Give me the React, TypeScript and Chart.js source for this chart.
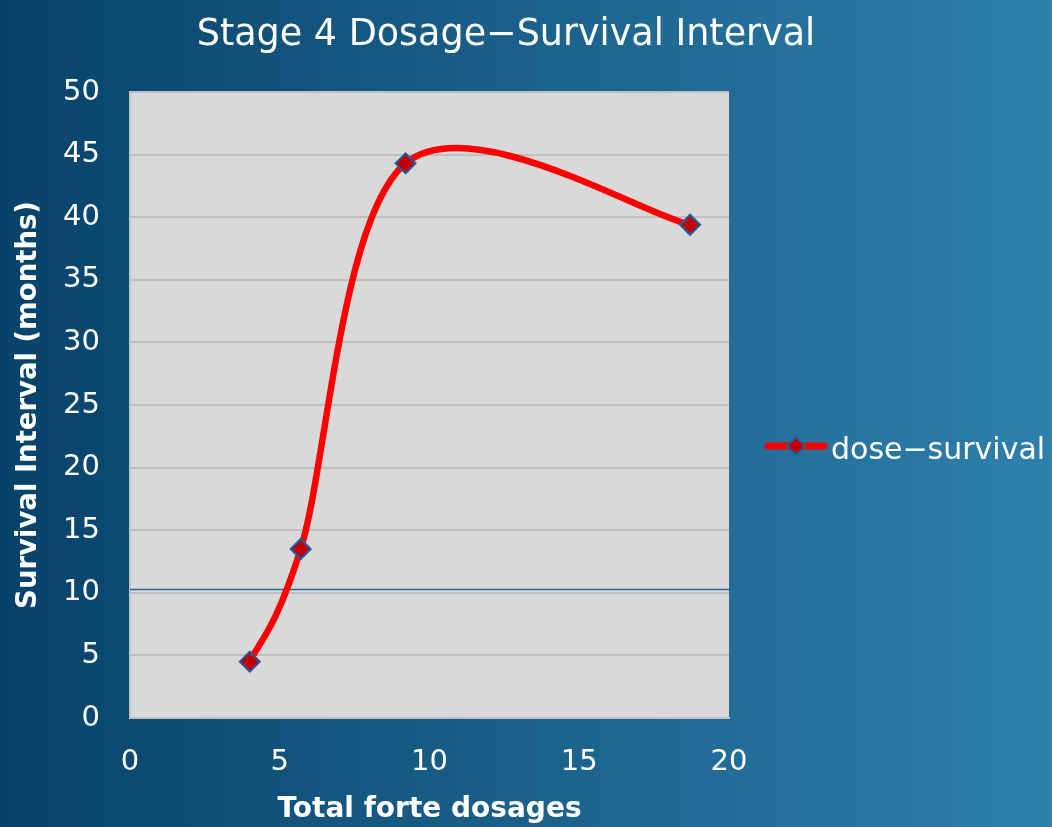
import React, { useEffect, useRef } from "react";
import { Chart, registerables } from "chart.js";

Chart.register(...registerables);

const chartTitle = "Stage 4 Dosage\u2212Survival Interval";
const xAxisTitle = "Total forte dosages";
const yAxisTitle = "Survival Interval (months)";
const seriesLabel = "dose\u2212survival";

const dosages = [4.0, 5.7, 9.2, 18.7];
const survivalMonths = [4.5, 13.5, 44.3, 39.4];

const xRange = [0, 20];
const xStep = 5;
const yRange = [0, 50];
const yStep = 5;

const referenceLineValue = 10.3;

const FONT = "'DejaVu Sans', sans-serif";
const LINE_COLOR = "#ff0000";
const MARKER_FILL = "#c00000";
const MARKER_BORDER = "#1f5fa0";

const backgroundPlugin = {
  id: "bgPlugin",
  beforeDraw(chart: any) {
    const { ctx, width, height, chartArea } = chart;
    ctx.save();
    const g = ctx.createLinearGradient(0, 0, width, 0);
    g.addColorStop(0, "#07426a");
    g.addColorStop(1, "#2e80ac");
    ctx.fillStyle = g;
    ctx.fillRect(0, 0, width, height);
    ctx.fillStyle = "#d9d9d9";
    ctx.fillRect(chartArea.left, chartArea.top, chartArea.right - chartArea.left, chartArea.bottom - chartArea.top);
    ctx.restore();
  },
};

// Excel-like smoothing (Catmull-Rom style control points in pixel space)
const smoothPlugin = {
  id: "excelSmooth",
  beforeDatasetsDraw(chart: any) {
    chart.data.datasets.forEach((_: any, di: number) => {
      const meta = chart.getDatasetMeta(di);
      const line = meta.dataset;
      const pts = meta.data;
      if (!line || !pts || pts.length < 2) return;
      const n = pts.length;
      for (let i = 0; i < n; i++) {
        const prev = pts[Math.max(0, i - 1)];
        const next = pts[Math.min(n - 1, i + 1)];
        const tx = (next.x - prev.x) / 6;
        const ty = (next.y - prev.y) / 6;
        pts[i].cp1x = pts[i].x - tx;
        pts[i].cp1y = pts[i].y - ty;
        pts[i].cp2x = pts[i].x + tx;
        pts[i].cp2y = pts[i].y + ty;
      }
      line._pointsUpdated = true;
      line._path = undefined;
    });
  },
};

const refLinePlugin = {
  id: "refLine",
  beforeDatasetsDraw(chart: any) {
    const { ctx, chartArea, scales } = chart;
    const y = Math.round(scales.y.getPixelForValue(referenceLineValue)) + 0.5;
    ctx.save();
    ctx.strokeStyle = "#1f6a9a";
    ctx.lineWidth = 1.5;
    ctx.beginPath();
    ctx.moveTo(chartArea.left, y);
    ctx.lineTo(chartArea.right, y);
    ctx.stroke();
    ctx.restore();
  },
};

const titleLegendPlugin = {
  id: "titleLegend",
  afterDraw(chart: any) {
    const { ctx } = chart;
    ctx.save();
    // title
    ctx.fillStyle = "#ffffff";
    ctx.font = `36.5px ${FONT}`;
    ctx.textAlign = "center";
    ctx.textBaseline = "alphabetic";
    ctx.fillText(chartTitle, 506, 45);

    // legend
    const ly = 446;
    ctx.strokeStyle = LINE_COLOR;
    ctx.lineWidth = 7;
    ctx.lineCap = "round";
    ctx.beginPath();
    ctx.moveTo(768, ly);
    ctx.lineTo(824, ly);
    ctx.stroke();
    const r = 9;
    ctx.beginPath();
    ctx.moveTo(796, ly - r);
    ctx.lineTo(796 + r, ly);
    ctx.lineTo(796, ly + r);
    ctx.lineTo(796 - r, ly);
    ctx.closePath();
    ctx.fillStyle = MARKER_FILL;
    ctx.fill();
    ctx.strokeStyle = MARKER_BORDER;
    ctx.lineWidth = 2;
    ctx.stroke();

    ctx.fillStyle = "#ffffff";
    ctx.font = `30px ${FONT}`;
    ctx.textAlign = "left";
    ctx.textBaseline = "alphabetic";
    ctx.fillText(seriesLabel, 831, 459);
    ctx.restore();
  },
};

export default function App() {
  const canvasRef = useRef<HTMLCanvasElement | null>(null);

  useEffect(() => {
    document.body.style.margin = "0";
    const canvas = canvasRef.current;
    if (!canvas) return;
    const points = dosages.map((x, i) => ({ x, y: survivalMonths[i] }));
    const chart = new Chart(canvas, {
      type: "scatter",
      data: {
        datasets: [
          {
            label: seriesLabel,
            data: points,
            showLine: true,
            tension: 0.4,
            capBezierPoints: false,
            borderColor: LINE_COLOR,
            borderWidth: 6.5,
            pointStyle: "rectRot",
            pointRadius: 10,
            pointBackgroundColor: MARKER_FILL,
            pointBorderColor: MARKER_BORDER,
            pointBorderWidth: 2,
            clip: false as any,
          } as any,
        ],
      },
      options: {
        animation: false,
        responsive: false,
        devicePixelRatio: 1,
        layout: { padding: { top: 92, right: 323, bottom: 0, left: 0 } },
        plugins: {
          legend: { display: false },
          title: { display: false },
          tooltip: { enabled: false },
        },
        scales: {
          x: {
            type: "linear",
            min: xRange[0],
            max: xRange[1],
            ticks: {
              stepSize: xStep,
              color: "#ffffff",
              font: { family: FONT, size: 29 },
              padding: 27,
            },
            grid: { display: false, drawTicks: false },
            border: { display: true, color: "#bfbfbf", width: 2 },
            title: {
              display: true,
              text: xAxisTitle,
              color: "#ffffff",
              font: { family: FONT, size: 28, weight: "bold" },
              padding: { top: 0, bottom: 0 },
            },
            afterFit(scale: any) {
              scale.height = 109;
            },
          },
          y: {
            type: "linear",
            min: yRange[0],
            max: yRange[1],
            ticks: {
              stepSize: yStep,
              color: "#ffffff",
              font: { family: FONT, size: 29 },
              padding: 30,
            },
            grid: { color: "#bfbfbf", lineWidth: 2, drawTicks: false },
            border: { display: true, color: "#c4c4c4", width: 2 },
            title: {
              display: true,
              text: yAxisTitle,
              color: "#ffffff",
              font: { family: FONT, size: 27.5, weight: "bold" },
              padding: { top: 12, bottom: 0 },
            },
            afterFit(scale: any) {
              scale.width = 130;
            },
          },
        },
      },
      plugins: [backgroundPlugin, refLinePlugin, smoothPlugin, titleLegendPlugin],
    });
    return () => chart.destroy();
  }, []);

  return (
    <div style={{ width: 1052, height: 827 }}>
      <canvas ref={canvasRef} width={1052} height={827} style={{ display: "block" }} />
    </div>
  );
}
